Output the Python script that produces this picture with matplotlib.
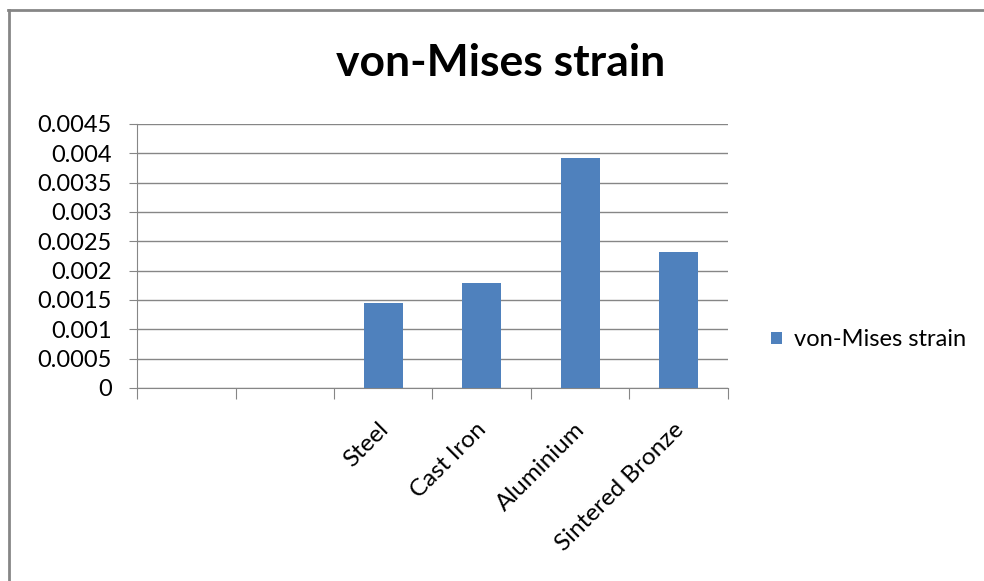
import numpy as np
import matplotlib
matplotlib.use("Agg")
import matplotlib.pyplot as plt
from matplotlib.transforms import ScaledTranslation

categories = ["", "", "Steel", "Cast Iron", "Aluminium", "Sintered Bronze"]
values = [np.nan, np.nan, 0.00145, 0.00179, 0.00392, 0.00232]
series_name = "von-Mises strain"
yticks = [0, 0.0005, 0.001, 0.0015, 0.002, 0.0025, 0.003, 0.0035, 0.004, 0.0045]
ytick_labels = ["0", "0.0005", "0.001", "0.0015", "0.002", "0.0025", "0.003", "0.0035", "0.004", "0.0045"]

plt.rcParams['font.family'] = ['Lato', 'DejaVu Sans']

W, H = 984, 581
fig = plt.figure(figsize=(W / 100, H / 100), dpi=100)
fig.patch.set_facecolor("white")

# chart-area border (left and top visible)
fig.add_artist(plt.Line2D([8.5 / W, 8.5 / W], [0, 1 - 10 / H], transform=fig.transFigure,
                          color="#868686", lw=2))
fig.add_artist(plt.Line2D([8 / W, 1], [1 - 10 / H, 1 - 10 / H], transform=fig.transFigure,
                          color="#868686", lw=2))

left, right, top, bottom = 137, 728, 124, 388
ax = fig.add_axes([left / W, 1 - bottom / H, (right - left) / W, (bottom - top) / H])

x = np.arange(len(categories))
ax.bar(x, values, width=0.4, color="#4F81BD", label=series_name, zorder=3)

ax.set_xlim(-0.5, len(categories) - 0.5)
ax.set_ylim(0, 0.0045)
ax.set_yticks(yticks)
ax.set_yticklabels(ytick_labels, fontsize=17)
ax.yaxis.grid(True, color="#868686", lw=1)
ax.set_axisbelow(True)

for s in ["top", "right"]:
    ax.spines[s].set_visible(False)
ax.spines["left"].set_color("#868686")
ax.spines["bottom"].set_color("#868686")
ax.tick_params(axis="y", length=6, color="#868686", pad=12)

# category boundaries as ticks
ax.set_xticks(np.arange(-0.5, len(categories), 1.0))
ax.set_xticklabels([])
ax.tick_params(axis="x", length=8, color="#868686", direction="out")
ax.set_xticks(x, minor=True)
labels = ax.set_xticklabels(categories, minor=True, rotation=45, ha="right", va="top",
                            rotation_mode="anchor", fontsize=17.5)
ax.tick_params(axis="x", which="minor", length=0, pad=22)
offset = ScaledTranslation(-6 / 100, 0, fig.dpi_scale_trans)
for lab in ax.get_xticklabels(minor=True):
    lab.set_transform(lab.get_transform() + offset)

fig.text(501 / W, 1 - 63 / H, "von-Mises strain", ha="center", va="center",
         fontsize=32, fontweight="bold")

leg = fig.legend(loc="center left", bbox_to_anchor=(750 / W, 1 - 340 / H), frameon=False,
                 fontsize=17, handlelength=0.45, handleheight=0.45, handletextpad=0.5)

fig.savefig("out.png", dpi=100, facecolor="white")
